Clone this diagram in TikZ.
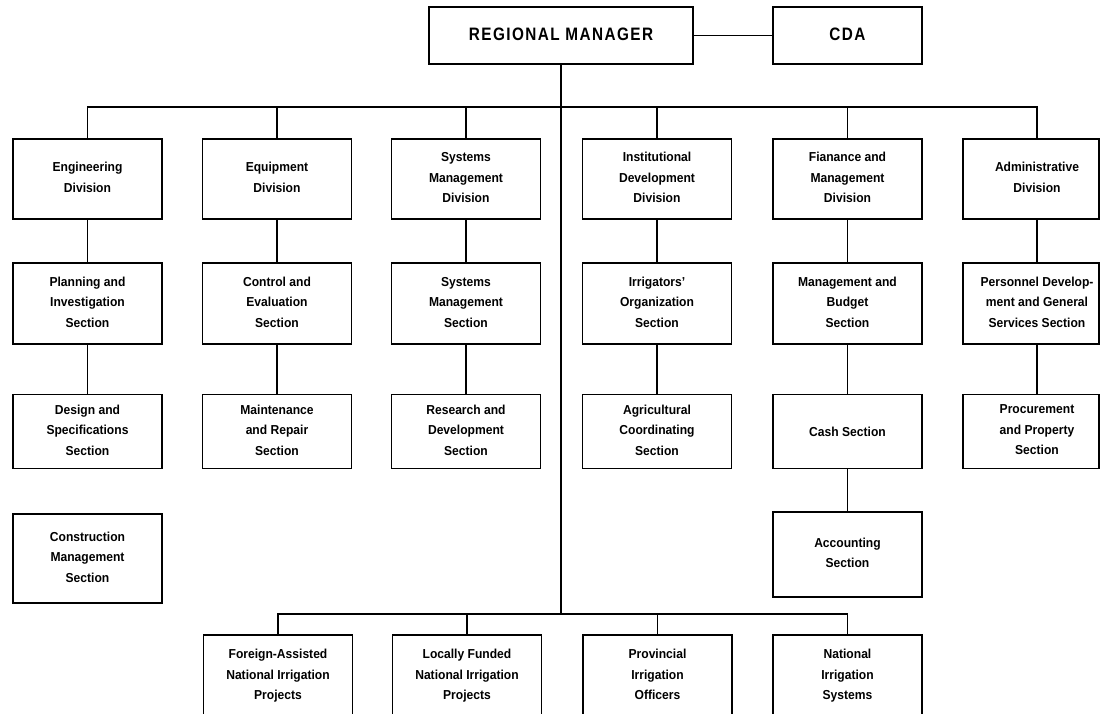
\documentclass[tikz,border=0pt]{standalone}
\usepackage{fontspec}
\setmainfont{Liberation Sans}[FakeStretch=0.93]
\newfontfamily\headfont{Liberation Sans}[FakeStretch=0.85,LetterSpace=8]
\newcommand\topfix{\rule{0pt}{12pt}}
\newcommand\botfix{\rule[-3pt]{0pt}{3pt}}
\begin{document}
\begin{tikzpicture}[x=1pt,y=-1pt,
  box/.style={draw, line width=1.6pt, minimum width=149pt, minimum height=80pt, inner sep=0pt, align=center, font=\fontsize{13}{20.5}\selectfont\bfseries, execute at begin node=\topfix, execute at end node=\botfix},
  headbox/.style={box, minimum height=57pt, font=\headfont\fontsize{18}{20}\selectfont\bfseries},
  bare/.style={inner sep=0pt, align=center, font=\fontsize{13}{20.5}\selectfont\bfseries, execute at begin node=\topfix, execute at end node=\botfix},
  link/.style={line width=1.4pt}]
\useasboundingbox (0,0) rectangle (1101,714);

% top
\node[headbox, minimum width=264pt] (rm) at (561,35.5) {REGIONAL MANAGER};
\node[headbox] (cda) at (847.5,35.5) {CDA};

% divisions
\node[box] (eng) at (87.5,179) {Engineering\\Division};
\node[box] (equ) at (277,179) {Equipment\\Division};
\node[box] (smd) at (466,179) {Systems\\Management\\Division};
\node[box] (idd) at (657,179) {Institutional\\Development\\Division};
\node[box] (fmd) at (847.5,179) {Fianance and\\Management\\Division};
\node[box, minimum width=136pt] (admbox) at (1031,179) {};
\node[bare] (adm) at (1037,179) {Administrative\\Division};

% second row
\node[box, minimum height=81pt] (pis) at (87.5,303.5) {Planning and\\Investigation\\Section};
\node[box, minimum height=81pt] (ces) at (277,303.5) {Control and\\Evaluation\\Section};
\node[box, minimum height=81pt] (sms) at (466,303.5) {Systems\\Management\\Section};
\node[box, minimum height=81pt] (ios) at (657,303.5) {Irrigators'\\Organization\\Section};
\node[box, minimum height=81pt] (mbs) at (847.5,303.5) {Management and\\Budget\\Section};
\node[box, minimum width=136pt, minimum height=81pt] (pdbox) at (1031,303.5) {};
\node[bare] (pd) at (1037,303.5) {Personnel Develop-\\ment and General\\Services Section};

% third row
\node[box, minimum height=74pt] (dss) at (87.5,431.5) {Design and\\Specifications\\Section};
\node[box, minimum height=74pt] (mrs) at (277,431.5) {Maintenance\\and Repair\\Section};
\node[box, minimum height=74pt] (rds) at (466,431.5) {Research and\\Development\\Section};
\node[box, minimum height=74pt] (acs) at (657,431.5) {Agricultural\\Coordinating\\Section};
\node[box, minimum height=74pt] (cash) at (847.5,431.5) {Cash Section};
\node[box, minimum width=136pt, minimum height=74pt] (ppbox) at (1031,431.5) {};
\node[bare] (pp) at (1037,431.5) {Procurement\\and Property\\Section};

% fourth row
\node[box, minimum height=89pt] (cms) at (87.5,558.5) {Construction\\Management\\Section};
\node[box, minimum height=85pt] (acc) at (847.5,554.5) {Accounting\\Section};

% bottom row
\node[box, minimum height=82pt] (fan) at (278,676) {Foreign-Assisted\\National Irrigation\\Projects};
\node[box, minimum height=82pt] (lfn) at (467,676) {Locally Funded\\National Irrigation\\Projects};
\node[box, minimum height=82pt] (pio) at (657.5,676) {Provincial\\Irrigation\\Officers};
\node[box, minimum height=82pt] (nis) at (847.5,676) {National\\Irrigation\\Systems};

% connectors
\coordinate (busL) at (87.5,107);
\coordinate (busR) at (1037,107);
\coordinate (bbus) at (561,614);
\draw[link] (rm.east) -- (cda.west);
\draw[link] (eng.north) -- (eng.north |- busL) -- (busR) -- (admbox.north -| busR);
\foreach \n in {equ,smd,idd,fmd} \draw[link] (\n.north) -- (\n.north |- busL);
\draw[link] (rm.south) -- (rm.south |- bbus);
\draw[link] (fan.north) -- (fan.north |- bbus) -- (nis.north |- bbus) -- (nis.north);
\foreach \n in {lfn,pio} \draw[link] (\n.north) -- (\n.north |- bbus);

\draw[link] (eng) -- (pis);
\draw[link] (pis) -- (dss);
\draw[link] (equ) -- (ces);
\draw[link] (ces) -- (mrs);
\draw[link] (smd) -- (sms);
\draw[link] (sms) -- (rds);
\draw[link] (idd) -- (ios);
\draw[link] (ios) -- (acs);
\draw[link] (fmd) -- (mbs);
\draw[link] (mbs) -- (cash);
\draw[link] (cash) -- (acc);
\draw[link] (admbox.south -| adm) -- (pdbox.north -| pd);
\draw[link] (pdbox.south -| pd) -- (ppbox.north -| pp);
\end{tikzpicture}
\end{document}
